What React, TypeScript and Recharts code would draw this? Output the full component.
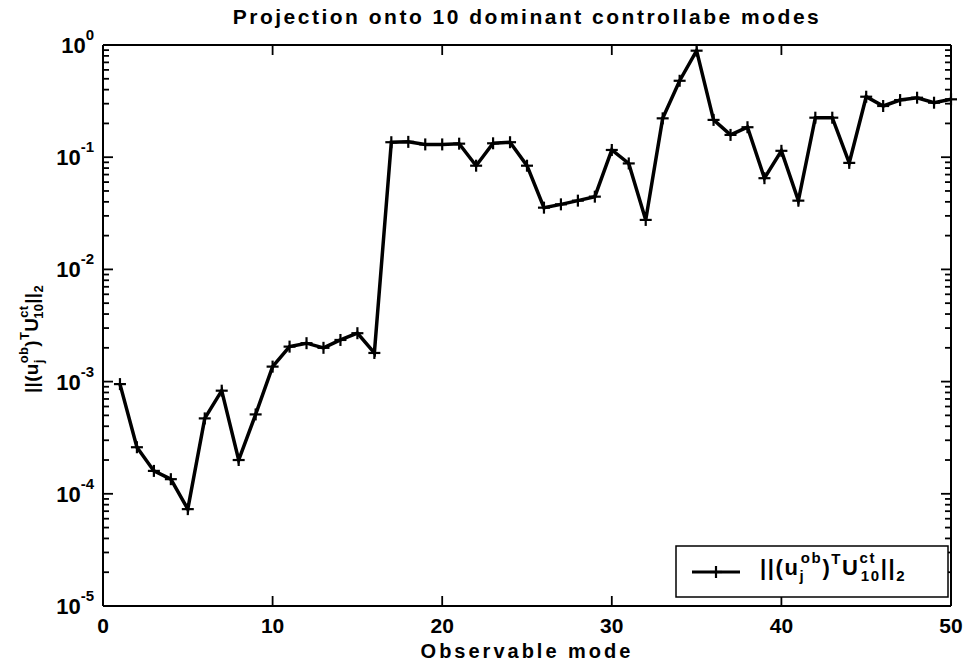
import React from 'react';
import { LineChart, Line, XAxis, YAxis } from 'recharts';

// observable mode index j
const modes = [
  1, 2, 3, 4, 5, 6, 7, 8, 9, 10,
  11, 12, 13, 14, 15, 16, 17, 18, 19, 20,
  21, 22, 23, 24, 25, 26, 27, 28, 29, 30,
  31, 32, 33, 34, 35, 36, 37, 38, 39, 40,
  41, 42, 43, 44, 45, 46, 47, 48, 49, 50,
];

// ||(u_j^ob)^T U_10^ct||_2
const projection = [
  9.5e-4, 2.6e-4, 1.6e-4, 1.35e-4, 7.3e-5, 4.7e-4, 8.3e-4, 2.0e-4, 5.1e-4, 1.36e-3,
  2.05e-3, 2.2e-3, 2.0e-3, 2.35e-3, 2.7e-3, 1.8e-3, 0.136, 0.137, 0.13, 0.13,
  0.132, 0.084, 0.133, 0.136, 0.084, 0.0355, 0.038, 0.041, 0.0445, 0.116,
  0.088, 0.0276, 0.222, 0.48, 0.89, 0.215, 0.158, 0.185, 0.065, 0.114,
  0.041, 0.225, 0.225, 0.089, 0.346, 0.286, 0.323, 0.339, 0.306, 0.328,
];

const xTicks = [0, 10, 20, 30, 40, 50];
const decades = [-5, -4, -3, -2, -1, 0];
const minorSteps = [2, 3, 4, 5, 6, 7, 8, 9];

const title = 'Projection onto 10 dominant controllabe modes';
const xLabel = 'Observable mode';

const data = modes.map((m, i) => ({ mode: m, value: projection[i] }));

const yTicks: number[] = [];
decades.forEach((d) => {
  yTicks.push(Math.pow(10, d));
  if (d < 0) minorSteps.forEach((k) => yTicks.push(k * Math.pow(10, d)));
});

// plot box
const PL = 103;
const PR = 951;
const PT = 45;
const PB = 606;
const W = 969;
const H = 663;

const FONT = '"Liberation Sans", Arial, Helvetica, sans-serif';

const isMajor = (v: number) => {
  const l = Math.log10(v);
  return Math.abs(l - Math.round(l)) < 1e-6;
};

// matlab style: ticks point into the box
const LeftTick = (props: any) => {
  const { y, payload } = props;
  const v = payload.value;
  const major = isMajor(v);
  return (
    <g>
      <path d={`M${PL},${y}H${PL + (major ? 10 : 6)}`} stroke="#000" strokeWidth={1.8} fill="none" />
      {major && (
        <text x={PL - 9} y={y + 8} textAnchor="end" fontFamily={FONT} fontWeight="bold" fontSize={22} fill="#000">
          10<tspan dy={-13} fontSize={15}>{Math.round(Math.log10(v))}</tspan>
        </text>
      )}
    </g>
  );
};

const RightTick = (props: any) => {
  const { y, payload } = props;
  const major = isMajor(payload.value);
  return <path d={`M${PR},${y}H${PR - (major ? 10 : 6)}`} stroke="#000" strokeWidth={1.8} fill="none" />;
};

const BottomTick = (props: any) => {
  const { x, payload } = props;
  return (
    <g>
      <path d={`M${x},${PB}V${PB - 10}`} stroke="#000" strokeWidth={1.8} fill="none" />
      <text x={x} y={PB + 27} textAnchor="middle" fontFamily={FONT} fontWeight="bold" fontSize={21} fill="#000">
        {payload.value}
      </text>
    </g>
  );
};

const TopTick = (props: any) => {
  const { x } = props;
  return <path d={`M${x},${PT}V${PT + 10}`} stroke="#000" strokeWidth={1.8} fill="none" />;
};

const Plus = ({ cx, cy, r = 6 }: { cx: number; cy: number; r?: number }) => (
  <g>
    <line x1={cx - r} x2={cx + r} y1={cy} y2={cy} stroke="#000" strokeWidth={2.2} />
    <line x1={cx} x2={cx} y1={cy - r} y2={cy + r} stroke="#000" strokeWidth={2.2} />
  </g>
);

// ||(u_j^ob)^T U_10^ct||_2 as svg tspans
const NormText = ({ x, y, size, spacing, transform }: { x: number; y: number; size: number; spacing: number; transform?: string }) => {
  const s = Math.round(size * 0.7);
  const k = size / 20;
  return (
    <text x={x} y={y} transform={transform} fontFamily={FONT} fontWeight="bold" fontSize={size} fill="#000" letterSpacing={spacing}>
      ||(u
      <tspan fontSize={s} dy={5 * k}>j</tspan>
      <tspan fontSize={s} dx={-4 * k} dy={-16 * k}>ob</tspan>
      <tspan dy={11 * k}>)</tspan>
      <tspan fontSize={s} dy={-10 * k}>T</tspan>
      <tspan dy={10 * k}>U</tspan>
      <tspan fontSize={s} dy={-11 * k}>ct</tspan>
      <tspan fontSize={s} dx={-14 * k} dy={16 * k}>10</tspan>
      <tspan dy={-5 * k}>||</tspan>
      <tspan fontSize={s} dy={5 * k}>2</tspan>
    </text>
  );
};

export default function App() {
  return (
    <div style={{ position: 'absolute', left: 0, top: 0, width: W, height: H, background: '#fff' }}>
      <LineChart
        width={W}
        height={H}
        data={data}
        margin={{ top: 0, right: 0, bottom: 0, left: 0 }}
      >
        <XAxis
          xAxisId="bottom"
          dataKey="mode"
          type="number"
          domain={[0, 50]}
          ticks={xTicks}
          interval={0}
          height={H - PB}
          axisLine={{ stroke: '#000', strokeWidth: 2 }}
          tickLine={false}
          tick={<BottomTick />}
        />
        <XAxis
          xAxisId="top"
          orientation="top"
          dataKey="mode"
          type="number"
          domain={[0, 50]}
          ticks={xTicks}
          interval={0}
          height={PT}
          axisLine={{ stroke: '#000', strokeWidth: 2 }}
          tickLine={false}
          tick={<TopTick />}
        />
        <YAxis
          yAxisId="left"
          scale="log"
          type="number"
          domain={[1e-5, 1]}
          ticks={yTicks}
          interval={0}
          allowDataOverflow
          width={PL}
          axisLine={{ stroke: '#000', strokeWidth: 2 }}
          tickLine={false}
          tick={<LeftTick />}
        />
        <YAxis
          yAxisId="right"
          orientation="right"
          scale="log"
          type="number"
          domain={[1e-5, 1]}
          ticks={yTicks}
          interval={0}
          allowDataOverflow
          width={W - PR}
          axisLine={{ stroke: '#000', strokeWidth: 2 }}
          tickLine={false}
          tick={<RightTick />}
        />
        <Line
          xAxisId="bottom"
          yAxisId="left"
          dataKey="value"
          stroke="#000"
          strokeWidth={3.5}
          isAnimationActive={false}
          dot={(p: any) => <Plus key={`pt-${p.index}`} cx={p.cx} cy={p.cy} />}
          activeDot={false}
        />
      </LineChart>
      <svg width={W} height={H} style={{ position: 'absolute', left: 0, top: 0, pointerEvents: 'none' }}>
        <text x={527} y={24} textAnchor="middle" fontFamily={FONT} fontWeight="bold" fontSize={21} letterSpacing={2.5} fill="#000">
          {title}
        </text>
        <text x={527} y={658} textAnchor="middle" fontFamily={FONT} fontWeight="bold" fontSize={20} letterSpacing={3} fill="#000">
          {xLabel}
        </text>
        <NormText x={0} y={0} size={19} spacing={0.3} transform="translate(38,393) rotate(-90)" />
        <rect x={676} y={546} width={272} height={51} fill="#fff" stroke="#000" strokeWidth={1.5} />
        <line x1={692} x2={740} y1={572} y2={572} stroke="#000" strokeWidth={3} />
        <Plus cx={716} cy={572} />
        <NormText x={760} y={575} size={22} spacing={1.6} />
      </svg>
    </div>
  );
}
